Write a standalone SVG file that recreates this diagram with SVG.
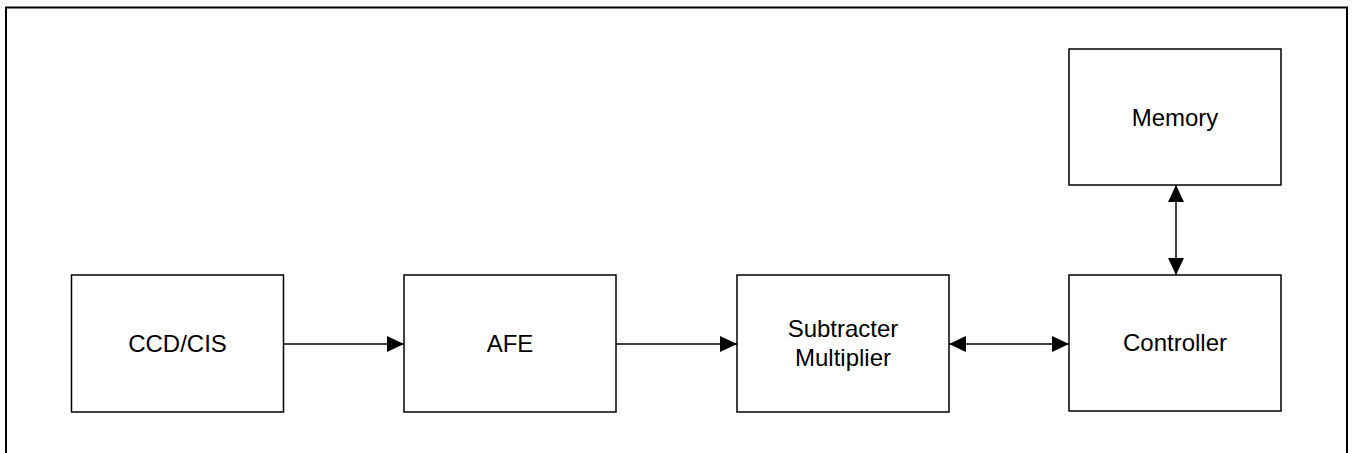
<svg xmlns="http://www.w3.org/2000/svg" width="1353" height="453" viewBox="0 0 1353 453">
<style>
.box{fill:#fff;stroke:#000;stroke-width:1.5}
.lbl{font-family:"Liberation Sans",Arial,sans-serif;font-size:24px;fill:#000;text-anchor:middle}
.con{stroke:#000;stroke-width:1.5;fill:none}
</style>
<defs>
<marker id="ah" viewBox="0 0 17 16" refX="17" refY="8" markerWidth="17" markerHeight="16" markerUnits="userSpaceOnUse" orient="auto-start-reverse">
<path d="M0,0 L17,8 L0,16 Z" fill="#000"/>
</marker>
</defs>
<rect x="0" y="0" width="1353" height="453" fill="#fff"/>
<rect x="6" y="7.5" width="1341" height="470" fill="none" stroke="#000" stroke-width="2"/>
<g id="ccd"><rect class="box" x="71.5" y="275" width="212" height="137"/><text class="lbl" x="177.5" y="351.5">CCD/CIS</text></g>
<g id="afe"><rect class="box" x="404" y="275" width="212" height="137"/><text class="lbl" x="510" y="351.5">AFE</text></g>
<g id="sub"><rect class="box" x="737" y="275" width="212" height="137"/><text class="lbl" x="843" y="337">Subtracter</text><text class="lbl" x="843" y="365.5">Multiplier</text></g>
<g id="ctrl"><rect class="box" x="1069" y="275" width="212" height="136"/><text class="lbl" x="1175" y="351">Controller</text></g>
<g id="mem"><rect class="box" x="1069" y="49" width="212" height="136"/><text class="lbl" x="1175" y="126">Memory</text></g>
<g id="connectors">
<line class="con" x1="283.5" y1="344" x2="404" y2="344" marker-end="url(#ah)"/>
<line class="con" x1="616" y1="344" x2="737" y2="344" marker-end="url(#ah)"/>
<line class="con" x1="949" y1="344" x2="1069" y2="344" marker-start="url(#ah)" marker-end="url(#ah)"/>
<line class="con" x1="1176" y1="185" x2="1176" y2="275" marker-start="url(#ah)" marker-end="url(#ah)"/>
</g>
</svg>
